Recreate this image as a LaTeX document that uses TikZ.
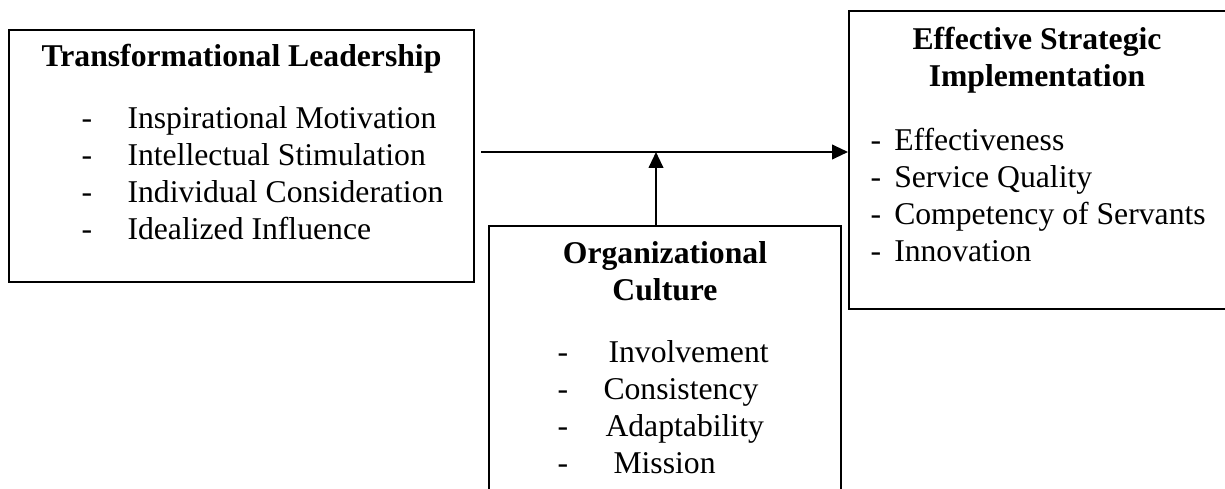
\documentclass[tikz,border=0pt]{standalone}
\usepackage{fontspec}
\setmainfont{Liberation Serif}
\usetikzlibrary{arrows.meta,fit}

\tikzset{
  box/.style={draw, line width=0.75pt, inner sep=0pt},
  txt/.style={inner sep=0pt, font=\fontsize{12pt}{14pt}\selectfont},
  head/.style={txt, font=\fontsize{12pt}{14pt}\selectfont\bfseries, anchor=base},
  item/.style={txt, anchor=base west},
  link/.style={line width=0.75pt, -{Triangle[length=6pt,width=5.5pt]}}
}

\begin{document}
\begin{tikzpicture}[x=0.3788pt, y=-0.3788pt]
\useasboundingbox (0,0) rectangle (1225,489);
\clip (0,0) rectangle (1225,489);

% boxes
\node[box, fit={(9,30) (474,282)}] (lead) {};
\node[box, fit={(849,11) (1240,309)}] (strat) {};
\node[box, fit={(489,226) (841,510)}] (culture) {};

% Transformational Leadership
\node[head] (leadtitle) at (241.5,67) {Transformational Leadership};
\node[item] (d1) at (81,129) {-};
\node[item] (l1) at (127,129) {Inspirational Motivation};
\node[item] (d2) at (81,166) {-};
\node[item] (l2) at (127,166) {Intellectual Stimulation};
\node[item] (d3) at (81,203) {-};
\node[item] (l3) at (127,203) {Individual Consideration};
\node[item] (d4) at (81,240) {-};
\node[item] (l4) at (127,240) {Idealized Influence};

% Effective Strategic Implementation
\node[head] (strattitle1) at (1037,50) {Effective Strategic};
\node[head] (strattitle2) at (1037,87) {Implementation};
\node[item] (s1) at (870,151) {-\hspace{5pt}Effectiveness};
\node[item] (s2) at (870,188) {-\hspace{5pt}Service Quality};
\node[item] (s3) at (870,225) {-\hspace{5pt}Competency of Servants};
\node[item] (s4) at (870,262) {-\hspace{5pt}Innovation};

% Organizational Culture
\node[head] (culttitle1) at (665,264) {Organizational};
\node[head] (culttitle2) at (665,301) {Culture};
\node[item] (e1) at (557,363) {-};
\node[item] (c1) at (608,363) {Involvement};
\node[item] (e2) at (557,400) {-};
\node[item] (c2) at (603,400) {Consistency};
\node[item] (e3) at (557,437) {-};
\node[item] (c3) at (605,437) {Adaptability};
\node[item] (e4) at (557,474) {-};
\node[item] (c4) at (613,474) {Mission};

% arrows
\coordinate (from) at (481,152);
\coordinate (mid) at (656,152);
\draw[link] (from) -- (from -| strat.west);
\draw[link] (mid |- culture.north) -- (mid);
\end{tikzpicture}
\end{document}
